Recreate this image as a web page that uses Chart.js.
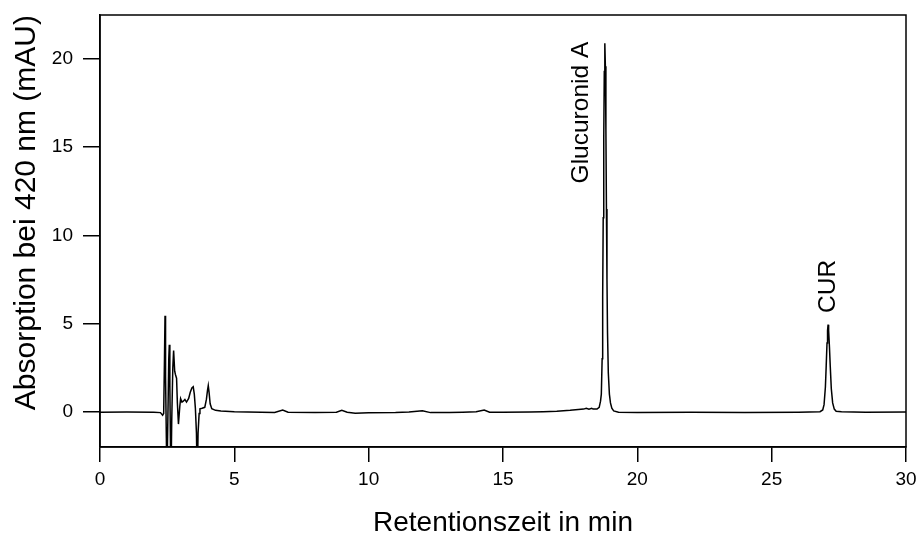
<!DOCTYPE html>
<html>
<head>
<meta charset="utf-8">
<script src="https://cdn.jsdelivr.net/npm/chart.js@4"></script>
<style>
    html, body { margin: 0; padding: 0; background: #fff; }
    #wrap { width: 917px; height: 537px; position: relative; }
</style>
</head>
<body>
<div id="wrap"><canvas id="chart"></canvas></div>
<script>
// Retention time (min) and absorbance at 420 nm (mAU)
const times = [
    0, 1.0, 2.0, 2.25, 2.33, 2.37, 2.40, 2.42, 2.44, 2.47, 2.49, 2.52, 2.56, 2.58, 2.60, 2.62,
    2.64, 2.67, 2.71, 2.74, 2.78, 2.81, 2.85, 2.88, 2.92, 2.94, 2.97, 3.00, 3.05, 3.10, 3.16,
    3.22, 3.30, 3.36, 3.42, 3.47, 3.51, 3.55, 3.59, 3.62, 3.65, 3.69, 3.72, 3.80, 3.90, 3.96,
    4.00, 4.03, 4.06, 4.10, 4.16, 4.30, 4.5, 5.0, 6.0, 6.5, 6.8, 7.0, 8.0, 8.8, 9.0, 9.2, 9.5,
    10.0, 11.0, 11.5, 12.0, 12.3, 13.0, 13.5, 14.0, 14.3, 14.5, 15.0, 16.0, 16.5, 17.0, 17.5,
    18.0, 18.1, 18.2, 18.3, 18.35, 18.50, 18.58, 18.63, 18.66, 18.69, 18.71, 18.73, 18.75,
    18.77, 18.79, 18.81, 18.83, 18.85, 18.87, 18.89, 18.92, 18.96, 19.00, 19.05, 19.12, 19.3,
    20.0, 22.0, 24.0, 26.0, 26.80, 26.90, 26.95, 27.00, 27.03, 27.06, 27.08, 27.10, 27.12,
    27.15, 27.18, 27.22, 27.27, 27.33, 27.40, 27.6, 28.5, 30,
];
const absorbance = [
    -0.03, -0.02, -0.03, -0.05, -0.2, -0.1, 3.0, 5.45, 2.0, -1.5, -4, -1.0, 3.0, 3.8, 1.5, -1.5,
    -4, -0.5, 2.5, 3.47, 2.3, 2.1, 1.9, 0.5, -0.7, -0.7, 0.3, 0.74, 0.55, 0.6, 0.7,
    0.55, 0.75, 1.1, 1.35, 1.42, 1.0, 0.2, -1.2, -4, -1.2, -0.1, 0.17, 0.2, 0.25, 0.7,
    1.2, 1.48, 1.1, 0.45, 0.17, 0.08, 0.04, 0.0, -0.03, -0.04, 0.1, -0.03, -0.05, -0.03, 0.08, -0.03, -0.08,
    -0.06, -0.05, -0.02, 0.05, -0.05, -0.05, -0.03, 0.0, 0.1, -0.03, -0.03, -0.02, 0.0, 0.03, 0.08,
    0.15, 0.2, 0.15, 0.2, 0.15, 0.15, 0.25, 0.6, 1.0, 3.0, 6.5, 11.0, 15.5,
    19.3, 20.9, 19.6, 16.0, 11.5, 7.5, 4.5, 2.2, 1.0, 0.5, 0.2, 0.05, -0.03,
    -0.04, -0.03, -0.04, -0.03, 0.0, 0.1, 0.4, 1.4, 2.6, 3.9, 4.6, 4.94, 4.6,
    3.7, 2.6, 1.3, 0.5, 0.15, 0.03, 0.0, -0.03, -0.02,
];

const yTicks = [0, 5, 10, 15, 20];

// Peak labels: text, time (min), absorbance where the rotated text starts
const peakNames = ["Glucuronid A", "CUR"];
const peakLabelTimes = [17.9, 27.1];
const peakLabelValues = [12.95, 5.6];

const FONT = "'Liberation Sans', Arial, sans-serif";
const NARROW = "'Liberation Sans Narrow', 'Arial Narrow', 'Liberation Sans', sans-serif";

const frame = {
    id: "frame",
    afterDraw(chart) {
        const { ctx, chartArea: a } = chart;
        ctx.save();
        ctx.strokeStyle = "#000";
        ctx.lineWidth = 1.5;
        ctx.strokeRect(a.left, a.top, a.right - a.left, a.bottom - a.top);
        ctx.restore();
    },
};

const peakLabels = {
    id: "peakLabels",
    afterDatasetsDraw(chart) {
        const { ctx, scales } = chart;
        ctx.save();
        ctx.fillStyle = "#000";
        ctx.font = "24.5px " + FONT;
        ctx.textAlign = "left";
        ctx.textBaseline = "middle";
        peakNames.forEach((name, i) => {
            const px = scales.x.getPixelForValue(peakLabelTimes[i]);
            const py = scales.y.getPixelForValue(peakLabelValues[i]);
            ctx.save();
            ctx.translate(px, py);
            ctx.rotate(-Math.PI / 2);
            ctx.fillText(name, 0, 0);
            ctx.restore();
        });
        ctx.restore();
    },
};

new Chart(document.getElementById("chart"), {
    type: "line",
    data: {
        datasets: [
            {
                data: times.map((t, i) => ({ x: t, y: absorbance[i] })),
                borderColor: "#000",
                borderWidth: 1.5,
                pointRadius: 0,
                tension: 0,
            },
        ],
    },
    options: {
        responsive: true,
        maintainAspectRatio: false,
        animation: false,
        layout: { padding: { top: 15, right: 11, left: 0, bottom: 0 } },
        plugins: { legend: { display: false }, tooltip: { enabled: false } },
        scales: {
            x: {
                type: "linear",
                min: 0,
                max: 30,
                afterFit: (scale) => {
                    scale.height = 90;
                    scale.paddingLeft = 0;
                    scale.paddingRight = 0;
                },
                border: { display: true, color: "#000", width: 1.5 },
                grid: { drawOnChartArea: false, drawTicks: true, tickLength: 15, color: "#000", lineWidth: 1.5 },
                ticks: { stepSize: 5, color: "#000", padding: 6, maxRotation: 0, font: { family: NARROW, size: 19 } },
                title: {
                    display: true,
                    text: "Retentionszeit in min",
                    color: "#000",
                    padding: { top: 0, bottom: 0 },
                    font: { family: FONT, size: 28, lineHeight: 1 },
                },
            },
            y: {
                min: -2,
                max: 22.5,
                afterFit: (scale) => {
                    scale.width = 100;
                    scale.paddingTop = 0;
                    scale.paddingBottom = 0;
                },
                afterBuildTicks: (scale) => { scale.ticks = yTicks.map((v) => ({ value: v })); },
                border: { display: true, color: "#000", width: 1.5 },
                grid: { drawOnChartArea: false, drawTicks: true, tickLength: 17, color: "#000", lineWidth: 1.5 },
                ticks: { color: "#000", padding: 10, font: { family: FONT, size: 19 } },
                title: {
                    display: true,
                    text: "Absorption bei 420 nm (mAU)",
                    color: "#000",
                    align: "end",
                    padding: { top: 12, bottom: 0 },
                    font: { family: FONT, size: 30, lineHeight: 1 },
                },
            },
        },
    },
    plugins: [frame, peakLabels],
});
</script>
</body>
</html>
